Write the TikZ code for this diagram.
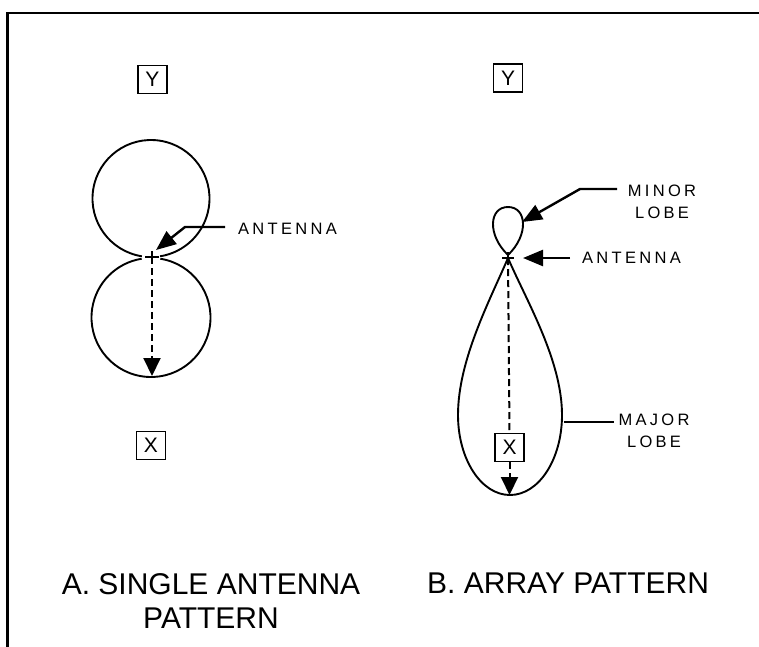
\documentclass[tikz,border=0pt]{standalone}
\usepackage{fontspec}
\setmainfont{Liberation Sans}
\newfontfamily\lblfont[LetterSpace=20]{Liberation Sans}
\usetikzlibrary{arrows.meta,calc}
\begin{document}
\begin{tikzpicture}[x=1pt,y=-1pt,
  frame/.style={line width=2.6pt},
  axisbox/.style={draw,line width=1.9pt,minimum width=29pt,minimum height=28pt,inner sep=0pt,font=\fontsize{21}{21}\selectfont},
  lobe/.style={line width=1.9pt},
  crosshair/.style={line width=1.8pt},
  ptr/.style={line width=2.4pt,-{Triangle[length=20pt,width=16pt]}},
  leader/.style={line width=2.4pt},
  dasharrow/.style={line width=2pt,dash pattern=on 7pt off 4pt,-{Triangle[length=18pt,width=17pt]}},
  dashline/.style={line width=2pt,dash pattern=on 7pt off 4pt},
  lbl/.style={font=\lblfont\fontsize{16.5}{21.5}\selectfont,align=center,inner sep=0pt},
  ttl/.style={font=\fontsize{30}{34}\selectfont,align=center,inner sep=0pt}]
\useasboundingbox (0,0) rectangle (759,646);
\draw[frame] (7.5,647) -- (7.5,13) -- (760,13);

% ---------- A: single antenna ----------
\node[axisbox] (yA) at (152.5,79.5) {Y};
\node[axisbox] (xA) at (151,445.5) {X};
\coordinate (antA) at (152,257);
\coordinate (tipA) at (152,376);
\draw[lobe] (151,198.5) ++(99:58.5) arc[start angle=99,end angle=441,radius=58.5];
\draw[lobe] (151,317.5) ++(-81:59.5) arc[start angle=-81,end angle=261,radius=59.5];
\draw[crosshair] ($(antA)+(-7,0)$) -- ($(antA)+(7,0)$) ($(antA)+(0,-6)$) -- ($(antA)+(0,6)$);
\draw[dasharrow] (antA) -- (tipA);
\node[lbl,anchor=west] (antlblA) at (238,228.5) {ANTENNA};
\coordinate (kneeA) at (185,227);
\coordinate (ptA) at (156,250);
\draw[ptr] ($(antlblA.west)+(-13,-1.5)$) -- (kneeA) -- (ptA);

% ---------- B: array ----------
\node[axisbox] (yB) at (508,78) {Y};
\node[axisbox] (xB) at (509.5,447.5) {X};
\coordinate (antB) at (508,258);
\coordinate (tipB) at (509.5,495);
\draw[lobe] (antB) .. controls (490,300) and (458,360) .. (458,415)
  .. controls (458,459) and (481,495) .. (510,495)
  .. controls (539,495) and (562,459) .. (562,415)
  .. controls (562,360) and (526,300) .. (antB);
\draw[lobe] ($(antB)+(0,-3)$) .. controls (487,235) and (489,207) .. (508,207)
  .. controls (527,207) and (529,235) .. ($(antB)+(0,-3)$);
\draw[crosshair] ($(antB)+(-6,0)$) -- ($(antB)+(6,0)$) ($(antB)+(0,-6)$) -- ($(antB)+(0,6)$);
\draw[dashline] (antB) -- (xB.north);
\draw[dasharrow] (xB.south) -- (tipB);

\node[lbl] (minlbl) at (662,202) {MINOR\\LOBE};
\coordinate (kneeM) at (580,189);
\coordinate (ptM) at (522,222);
\draw[ptr] (617,189) -- (kneeM) -- (ptM);

\node[lbl,anchor=west] (antlblB) at (582,258) {ANTENNA};
\coordinate (ptB) at (523,258);
\draw[ptr] ($(antlblB.west)+(-12,0)$) -- (ptB);

\node[lbl] (majlbl) at (654,431) {MAJOR\\LOBE};
\coordinate (majedge) at (564,422);
\draw[leader] (majedge) -- ($(majlbl.west)+(-4,-9)$);

% ---------- titles ----------
\node[ttl,anchor=north] (ttlA) at (211,573) {A. SINGLE ANTENNA\\PATTERN};
\node[ttl,anchor=north west] (ttlB) at (427,573) {B. ARRAY PATTERN};
\end{tikzpicture}
\end{document}
